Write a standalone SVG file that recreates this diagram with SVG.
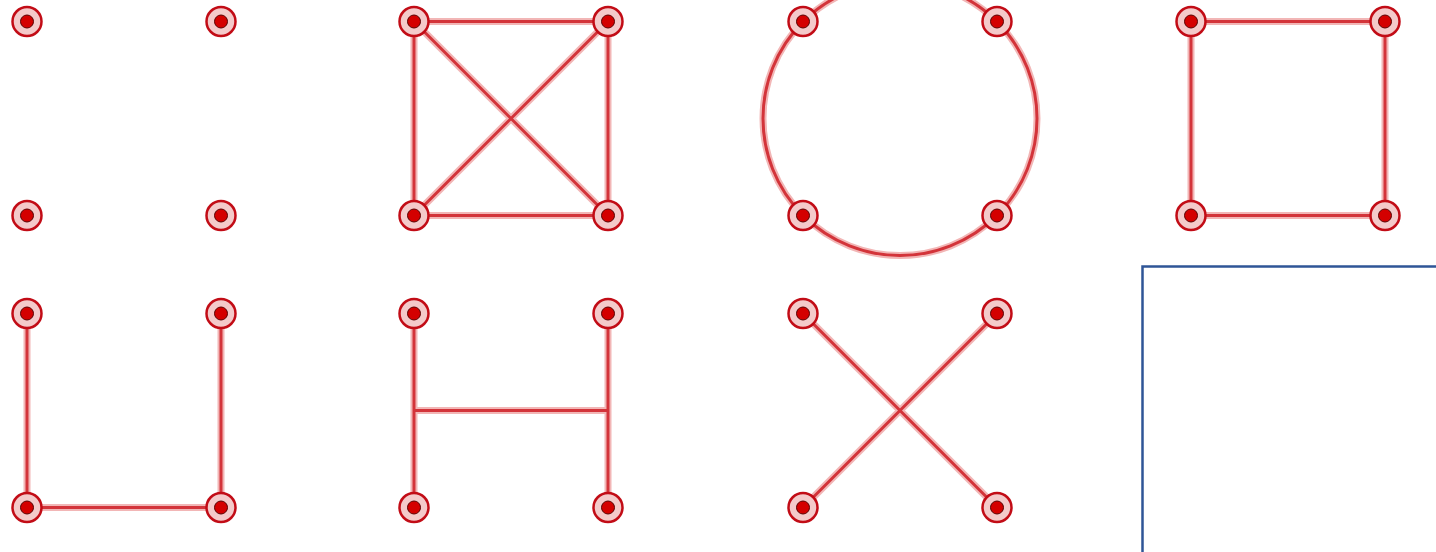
<svg xmlns="http://www.w3.org/2000/svg" width="1436" height="552" viewBox="0 0 1436 552">
<defs>
<style>
.glow{fill:none;stroke:#f2b6b6;stroke-width:7;stroke-linecap:round}
.ln{fill:none;stroke:#d3343a;stroke-width:3;stroke-linecap:round}
.ring{fill:#f4caca;stroke:#c20c16;stroke-width:2.5}
.core{fill:#d40000;stroke:#5a0000;stroke-width:1}
</style>
<g id="dot"><circle class="ring" r="14.5"/><circle class="core" r="6.5"/></g>
</defs>
<rect width="1436" height="552" fill="#ffffff"/>
<g id="connectors" transform="translate(0,0.5)">
<g class="glow">
<path d="M414,21H608V215H414Z M414,21L608,215 M608,21L414,215"/>
<circle cx="900" cy="118" r="137"/>
<path d="M1191,21H1385V215H1191Z"/>
<path d="M27,313V507H221V313"/>
<path d="M414,313V507 M608,313V507 M414,410H608"/>
<path d="M803,313L997,507 M997,313L803,507"/>
</g>
<g class="ln">
<path d="M414,21H608V215H414Z M414,21L608,215 M608,21L414,215"/>
<circle cx="900" cy="118" r="137"/>
<path d="M1191,21H1385V215H1191Z"/>
<path d="M27,313V507H221V313"/>
<path d="M414,313V507 M608,313V507 M414,410H608"/>
<path d="M803,313L997,507 M997,313L803,507"/>
</g>
</g>
<g transform="translate(0,0.5)">
<g id="p1"><use href="#dot" x="27" y="21"/><use href="#dot" x="221" y="21"/><use href="#dot" x="27" y="215"/><use href="#dot" x="221" y="215"/></g>
<g id="p2"><use href="#dot" x="414" y="21"/><use href="#dot" x="608" y="21"/><use href="#dot" x="414" y="215"/><use href="#dot" x="608" y="215"/></g>
<g id="p3"><use href="#dot" x="803" y="21"/><use href="#dot" x="997" y="21"/><use href="#dot" x="803" y="215"/><use href="#dot" x="997" y="215"/></g>
<g id="p4"><use href="#dot" x="1191" y="21"/><use href="#dot" x="1385" y="21"/><use href="#dot" x="1191" y="215"/><use href="#dot" x="1385" y="215"/></g>
<g id="p5"><use href="#dot" x="27" y="313"/><use href="#dot" x="221" y="313"/><use href="#dot" x="27" y="507"/><use href="#dot" x="221" y="507"/></g>
<g id="p6"><use href="#dot" x="414" y="313"/><use href="#dot" x="608" y="313"/><use href="#dot" x="414" y="507"/><use href="#dot" x="608" y="507"/></g>
<g id="p7"><use href="#dot" x="803" y="313"/><use href="#dot" x="997" y="313"/><use href="#dot" x="803" y="507"/><use href="#dot" x="997" y="507"/></g>
</g>
<g id="blank-panel"><rect x="1142.5" y="266.5" width="296" height="290" fill="#ffffff" stroke="#2f5597" stroke-width="2.5"/></g>
</svg>
